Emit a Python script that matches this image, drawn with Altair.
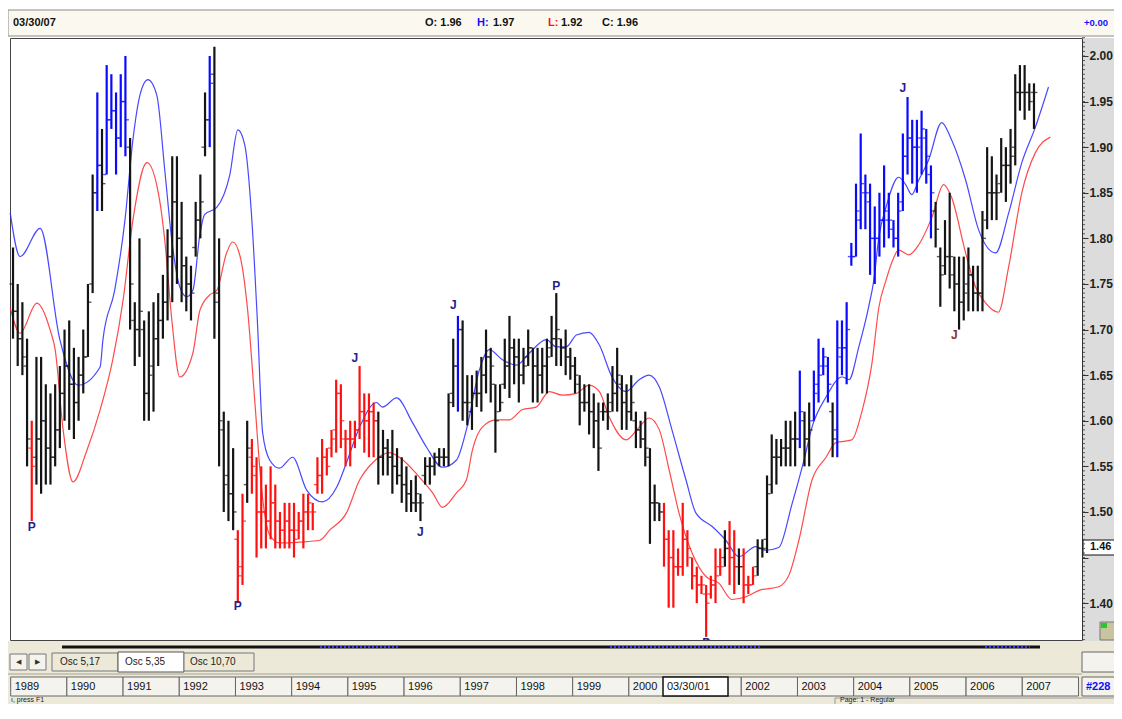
import altair as alt
import pandas as pd

# ---------------- data (monthly bars, Jan 1989 .. Mar 2007) ----------------
high = [
    1.79, 1.75, 1.73, 1.69, 1.60, 1.67, 1.67, 1.64, 1.63, 1.64, 1.66, 1.70,
    1.71, 1.68, 1.67, 1.70, 1.75, 1.87, 1.96, 1.92, 1.99, 1.98, 1.96, 1.98,
    2.00, 1.91, 1.73, 1.80, 1.71, 1.72, 1.73, 1.74, 1.76, 1.81, 1.89, 1.89,
    1.84, 1.78, 1.77, 1.84, 1.87, 1.96, 2.00, 2.01, 1.80, 1.61, 1.60, 1.57,
    1.48, 1.52, 1.60, 1.58, 1.56, 1.55, 1.53, 1.55, 1.53, 1.50, 1.51, 1.51,
    1.51, 1.50, 1.52, 1.52, 1.51, 1.56, 1.58, 1.57, 1.59, 1.645, 1.64, 1.59,
    1.60, 1.60, 1.66, 1.63, 1.63, 1.62, 1.61, 1.59, 1.58, 1.59, 1.57, 1.56,
    1.55, 1.535, 1.54, 1.52, 1.56, 1.56, 1.565, 1.57, 1.57, 1.63, 1.69, 1.715,
    1.71, 1.65, 1.65, 1.655, 1.67, 1.70, 1.68, 1.64, 1.64, 1.69, 1.715, 1.69,
    1.69, 1.68, 1.70, 1.68, 1.68, 1.68, 1.69, 1.715, 1.74, 1.69, 1.70, 1.68,
    1.67, 1.65, 1.64, 1.64, 1.63, 1.62, 1.62, 1.63, 1.66, 1.68, 1.65, 1.64,
    1.65, 1.61, 1.60, 1.61, 1.57, 1.53, 1.51, 1.51, 1.48, 1.48, 1.46, 1.51,
    1.48, 1.45, 1.44, 1.43, 1.42, 1.43, 1.46, 1.46, 1.48, 1.49, 1.48, 1.46,
    1.46, 1.43, 1.44, 1.47, 1.47, 1.54, 1.585, 1.58, 1.58, 1.60, 1.60, 1.61,
    1.655, 1.61, 1.62, 1.655, 1.69, 1.68, 1.67, 1.62, 1.71, 1.71, 1.73, 1.795,
    1.86, 1.915, 1.87, 1.86, 1.835, 1.85, 1.88, 1.85, 1.82, 1.85, 1.915, 1.955,
    1.93, 1.93, 1.94, 1.92, 1.88, 1.84, 1.79, 1.82, 1.85, 1.78, 1.78, 1.78,
    1.79, 1.77, 1.77, 1.83, 1.90, 1.89, 1.87, 1.91, 1.90, 1.92, 1.98, 1.99,
    1.99, 1.97, 1.97,
]
low = [
    1.69, 1.66, 1.65, 1.55, 1.49, 1.53, 1.52, 1.53, 1.53, 1.55, 1.57, 1.60,
    1.59, 1.58, 1.60, 1.63, 1.67, 1.74, 1.83, 1.83, 1.87, 1.92, 1.87, 1.90,
    1.89, 1.70, 1.66, 1.67, 1.60, 1.60, 1.61, 1.66, 1.69, 1.71, 1.73, 1.75,
    1.73, 1.72, 1.71, 1.78, 1.80, 1.89, 1.90, 1.69, 1.55, 1.50, 1.49, 1.48,
    1.40, 1.42, 1.51, 1.52, 1.45, 1.46, 1.46, 1.47, 1.46, 1.46, 1.46, 1.46,
    1.45, 1.47, 1.46, 1.48, 1.48, 1.52, 1.52, 1.54, 1.56, 1.565, 1.57, 1.55,
    1.55, 1.57, 1.58, 1.565, 1.56, 1.56, 1.53, 1.54, 1.54, 1.52, 1.53, 1.51,
    1.50, 1.50, 1.50, 1.49, 1.53, 1.53, 1.54, 1.55, 1.55, 1.55, 1.615, 1.61,
    1.60, 1.595, 1.59, 1.615, 1.61, 1.63, 1.62, 1.565, 1.61, 1.635, 1.625, 1.64,
    1.62, 1.64, 1.66, 1.62, 1.62, 1.63, 1.63, 1.67, 1.66, 1.66, 1.65, 1.645,
    1.63, 1.595, 1.61, 1.585, 1.57, 1.545, 1.60, 1.59, 1.61, 1.61, 1.59, 1.59,
    1.60, 1.57, 1.57, 1.55, 1.465, 1.49, 1.49, 1.44, 1.395, 1.395, 1.43, 1.43,
    1.44, 1.415, 1.40, 1.41, 1.363, 1.405, 1.40, 1.43, 1.44, 1.42, 1.41, 1.42,
    1.40, 1.41, 1.42, 1.43, 1.45, 1.455, 1.52, 1.53, 1.55, 1.55, 1.55, 1.55,
    1.57, 1.55, 1.55, 1.60, 1.62, 1.65, 1.62, 1.56, 1.56, 1.65, 1.64, 1.77,
    1.78, 1.81, 1.81, 1.76, 1.75, 1.78, 1.79, 1.80, 1.79, 1.78, 1.83, 1.87,
    1.86, 1.85, 1.87, 1.86, 1.80, 1.79, 1.725, 1.76, 1.745, 1.72, 1.70, 1.71,
    1.72, 1.72, 1.72, 1.72, 1.81, 1.82, 1.82, 1.85, 1.84, 1.86, 1.88, 1.94,
    1.93, 1.94, 1.92,
]
opens = [
    1.75, 1.72, 1.69, 1.66, 1.57, 1.56, 1.58, 1.60, 1.57, 1.56, 1.59, 1.63,
    1.66, 1.64, 1.62, 1.65, 1.67, 1.75, 1.85, 1.88, 1.87, 1.93, 1.94, 1.91,
    1.95, 1.90, 1.71, 1.70, 1.70, 1.63, 1.66, 1.69, 1.71, 1.73, 1.78, 1.84,
    1.80, 1.77, 1.75, 1.79, 1.82, 1.90, 1.93, 1.98, 1.74, 1.59, 1.54, 1.52,
    1.47, 1.44, 1.53, 1.56, 1.54, 1.50, 1.50, 1.49, 1.51, 1.49, 1.48, 1.49,
    1.48, 1.48, 1.49, 1.50, 1.50, 1.53, 1.54, 1.56, 1.57, 1.59, 1.63, 1.58,
    1.58, 1.58, 1.59, 1.61, 1.60, 1.61, 1.60, 1.56, 1.57, 1.56, 1.55, 1.54,
    1.53, 1.52, 1.51, 1.51, 1.54, 1.55, 1.55, 1.56, 1.56, 1.56, 1.63, 1.66,
    1.70, 1.62, 1.61, 1.63, 1.63, 1.65, 1.67, 1.64, 1.61, 1.64, 1.66, 1.68,
    1.67, 1.65, 1.67, 1.68, 1.66, 1.65, 1.66, 1.68, 1.69, 1.69, 1.68, 1.67,
    1.66, 1.64, 1.62, 1.62, 1.61, 1.60, 1.61, 1.61, 1.62, 1.63, 1.64, 1.62,
    1.61, 1.60, 1.59, 1.58, 1.56, 1.51, 1.51, 1.50, 1.47, 1.45, 1.44, 1.44,
    1.47, 1.45, 1.43, 1.42, 1.41, 1.41, 1.42, 1.44, 1.45, 1.46, 1.45, 1.44,
    1.44, 1.42, 1.42, 1.44, 1.46, 1.47, 1.53, 1.56, 1.56, 1.57, 1.57, 1.58,
    1.58, 1.60, 1.58, 1.60, 1.64, 1.66, 1.66, 1.61, 1.59, 1.67, 1.68, 1.78,
    1.78, 1.82, 1.85, 1.84, 1.80, 1.80, 1.82, 1.82, 1.81, 1.80, 1.84, 1.89,
    1.91, 1.90, 1.91, 1.91, 1.87, 1.83, 1.78, 1.77, 1.78, 1.76, 1.75, 1.73,
    1.75, 1.76, 1.74, 1.74, 1.82, 1.85, 1.85, 1.86, 1.88, 1.88, 1.90, 1.96,
    1.96, 1.96, 1.96,
]
closes = [
    1.72, 1.69, 1.67, 1.58, 1.55, 1.58, 1.60, 1.57, 1.56, 1.59, 1.63, 1.66,
    1.64, 1.62, 1.65, 1.67, 1.73, 1.85, 1.88, 1.86, 1.93, 1.94, 1.91, 1.95,
    1.93, 1.75, 1.70, 1.72, 1.63, 1.65, 1.69, 1.71, 1.73, 1.78, 1.84, 1.80,
    1.77, 1.75, 1.74, 1.82, 1.84, 1.93, 1.97, 1.73, 1.60, 1.53, 1.52, 1.50,
    1.43, 1.49, 1.57, 1.55, 1.50, 1.50, 1.49, 1.51, 1.49, 1.48, 1.49, 1.48,
    1.47, 1.49, 1.50, 1.51, 1.50, 1.54, 1.56, 1.55, 1.58, 1.63, 1.60, 1.58,
    1.58, 1.59, 1.61, 1.60, 1.61, 1.60, 1.56, 1.57, 1.56, 1.55, 1.54, 1.53,
    1.52, 1.51, 1.52, 1.51, 1.55, 1.55, 1.56, 1.56, 1.56, 1.62, 1.66, 1.70,
    1.62, 1.62, 1.63, 1.63, 1.65, 1.67, 1.66, 1.60, 1.62, 1.66, 1.68, 1.67,
    1.65, 1.66, 1.68, 1.66, 1.65, 1.66, 1.67, 1.69, 1.70, 1.68, 1.67, 1.66,
    1.65, 1.62, 1.62, 1.61, 1.60, 1.57, 1.61, 1.61, 1.63, 1.65, 1.62, 1.61,
    1.62, 1.59, 1.58, 1.57, 1.51, 1.51, 1.50, 1.47, 1.45, 1.44, 1.44, 1.47,
    1.46, 1.43, 1.42, 1.42, 1.40, 1.42, 1.43, 1.44, 1.46, 1.45, 1.44, 1.44,
    1.42, 1.42, 1.43, 1.46, 1.46, 1.52, 1.56, 1.56, 1.57, 1.57, 1.58, 1.58,
    1.61, 1.58, 1.59, 1.63, 1.65, 1.67, 1.64, 1.58, 1.68, 1.68, 1.70, 1.78,
    1.83, 1.86, 1.85, 1.80, 1.80, 1.82, 1.83, 1.82, 1.80, 1.83, 1.89, 1.91,
    1.90, 1.90, 1.92, 1.89, 1.85, 1.81, 1.76, 1.78, 1.78, 1.75, 1.73, 1.74,
    1.76, 1.74, 1.74, 1.80, 1.85, 1.85, 1.85, 1.88, 1.88, 1.89, 1.96, 1.96,
    1.96, 1.95, 1.96,
]
bar_color = list(
    "kkkkrkkkkkkk" "kkkkkkbkbbbb" "bkkkkkkkkkkk" "kkkkkkbkkkkk"
    "rrkrrrrrrrrr" "rrrrrrrrrrrr" "rrrrrrkkkkkk" "kkkkkkkkkkkb"
    "kkkkkkkkkkkk" "kkkkkkkkkkkk" "kkkkkkkkkkkk" "kkkkkkkrrrrr"
    "rrrrrrrrkrrk" "rrrkkkkkkkkk" "bkkbbbbkbbbb" "bbbbbbbbbbbb"
    "bbbbbkkkkkkk" "kkkkkkkkkkkk" "kkk"
)

# upper (blue) and lower (red) bands, read at month positions
up_month = [-0.6, 1.5, 5.8, 10.0, 13.9, 18.6, 19.2, 21.7, 23.9, 25.6, 27.1, 28.8, 30.7, 32.4,
            33.9, 35.6, 37.1, 38.4, 39.9, 40.9, 43.5, 46.3, 48.0, 49.5, 51.0, 52.2, 53.3, 54.8,
            56.9, 59.7, 62.7, 66.1, 69.1, 71.2, 74.0, 77.6, 78.9, 81.9, 85.3, 88.3, 91.7, 94.7,
            96.8, 99.6, 101.7, 104.5, 107.5, 110.2, 113.9, 116.0, 118.1, 120.3, 123.0, 125.2,
            127.9, 130.9, 133.7, 135.8, 138.0, 140.7, 143.7, 145.8, 149.3, 152.2, 155.0, 158.6,
            160.8, 163.5, 166.3, 168.9, 170.6, 173.6, 177.0, 178.5, 180.6, 182.7, 183.8, 184.9,
            186.4, 189.1, 190.6, 191.9, 193.4, 195.5, 198.3, 200.4, 203.4, 206.2, 209.8, 212.6,
            215.4, 218.3, 221.1]
up_value = [1.828, 1.780, 1.811, 1.689, 1.639, 1.659, 1.689, 1.743, 1.820, 1.908, 1.957, 1.974,
            1.957, 1.875, 1.798, 1.747, 1.736, 1.743, 1.804, 1.826, 1.834, 1.870, 1.919, 1.902,
            1.820, 1.707, 1.587, 1.557, 1.548, 1.560, 1.524, 1.511, 1.527, 1.554, 1.593, 1.620,
            1.615, 1.625, 1.598, 1.571, 1.549, 1.557, 1.590, 1.656, 1.678, 1.667, 1.661, 1.674,
            1.689, 1.681, 1.681, 1.694, 1.697, 1.683, 1.648, 1.632, 1.645, 1.650, 1.637, 1.590,
            1.535, 1.499, 1.484, 1.469, 1.451, 1.462, 1.458, 1.461, 1.508, 1.557, 1.593, 1.626,
            1.648, 1.645, 1.681, 1.725, 1.754, 1.802, 1.834, 1.867, 1.859, 1.848, 1.864, 1.886,
            1.927, 1.908, 1.864, 1.809, 1.784, 1.828, 1.883, 1.922, 1.966]
lo_month = [-0.6, 1.5, 5.1, 7.9, 9.0, 10.7, 12.8, 15.8, 18.6, 21.3, 23.5, 25.6, 28.6, 31.3, 32.4,
            33.9, 35.6, 38.4, 39.9, 42.0, 43.5, 45.6, 46.9, 48.4, 50.1, 51.6, 53.1, 54.8, 56.9,
            61.2, 65.5, 67.6, 71.2, 74.0, 76.8, 80.4, 82.5, 86.8, 89.6, 91.7, 94.7, 96.8, 98.1,
            100.2, 103.2, 106.0, 108.7, 111.7, 114.5, 117.3, 120.3, 123.0, 125.2, 127.3, 130.9,
            133.7, 135.8, 138.0, 140.1, 142.2, 145.0, 148.0, 150.7, 153.5, 156.5, 159.3, 163.5,
            165.7, 167.8, 170.6, 173.6, 175.7, 179.1, 181.2, 183.4, 184.9, 186.4, 187.6, 189.1,
            191.3, 193.4, 196.2, 198.7, 200.4, 203.4, 205.5, 207.7, 210.4, 212.6, 215.4, 218.3,
            221.5]
lo_value = [1.724, 1.696, 1.729, 1.700, 1.678, 1.590, 1.533, 1.568, 1.612, 1.667, 1.732, 1.820,
            1.883, 1.842, 1.798, 1.711, 1.648, 1.674, 1.721, 1.738, 1.743, 1.784, 1.796, 1.782,
            1.721, 1.623, 1.524, 1.475, 1.466, 1.467, 1.469, 1.480, 1.499, 1.535, 1.554, 1.565,
            1.560, 1.538, 1.521, 1.505, 1.521, 1.535, 1.568, 1.593, 1.601, 1.601, 1.612, 1.615,
            1.632, 1.628, 1.630, 1.639, 1.632, 1.604, 1.579, 1.593, 1.603, 1.590, 1.546, 1.499,
            1.455, 1.429, 1.422, 1.404, 1.407, 1.414, 1.418, 1.431, 1.469, 1.535, 1.560, 1.576,
            1.579, 1.609, 1.663, 1.725, 1.754, 1.773, 1.787, 1.782, 1.793, 1.823, 1.859, 1.845,
            1.784, 1.747, 1.729, 1.719, 1.769, 1.850, 1.894, 1.911]

# turning-point labels
lab_month = [4, 48, 73, 87, 94, 116, 148, 190, 201, 42]
lab_value = [1.483, 1.397, 1.669, 1.478, 1.727, 1.748, 1.356, 1.965, 1.694, 2.030]
lab_text = ["P", "P", "J", "J", "J", "P", "P", "J", "J", "J"]
lab_color = ["#1f1f8f"] * 8 + ["#8b3030", "#1f1f8f"]

years = list(range(1989, 2008))
year_text = [str(y) if y != 2001 else "" for y in years]
y_ticks = [1.40, 1.45, 1.50, 1.55, 1.60, 1.65, 1.70, 1.75, 1.80, 1.85, 1.90, 1.95, 2.00]
minor_ticks = [round(1.36 + 0.005 * i, 3) for i in range(133)]

palette = {"k": "#141414", "b": "#0a0aff", "r": "#ff1010"}


def to_t(m):
    return 1989 + (m + 0.5) / 12.0


bars = pd.DataFrame({"t": [to_t(i) for i in range(len(high))], "high": high, "low": low,
                     "open": opens, "close": closes,
                     "col": [palette[c] for c in bar_color]})
upper = pd.DataFrame({"t": [to_t(m) for m in up_month], "v": up_value})
lower = pd.DataFrame({"t": [to_t(m) for m in lo_month], "v": lo_value})
labels = pd.DataFrame({"t": [to_t(m) for m in lab_month], "v": lab_value,
                       "txt": lab_text, "col": lab_color})
yrs = pd.DataFrame({"y0": years, "y1": [y + 1 for y in years], "lab": year_text})
minor = pd.DataFrame({"v": minor_ticks})

# ---------------- layout ----------------
W, H = 1072, 602
OX, OY = 10, 38          # page position of plot origin
XS = alt.Scale(domain=[1988.988, 1988.988 + W / 56.2], nice=False, zero=False)
YS = alt.Scale(domain=[1.3596, 2.0197], nice=False, zero=False)
yaxis = alt.Axis(orient="right", values=y_ticks, format=".2f", title=None, grid=False,
                 domainColor="#333", tickColor="#333", tickSize=6, labelPadding=1,
                 labelFont="Liberation Sans", labelFontSize=12, labelFontWeight="bold",
                 labelColor="#222", labelFlush=False, zindex=1,
                 labelExpr="abs(datum.value - 1.45) < 0.001 ? '' : datum.label")

one = pd.DataFrame({"d": [0]})


def X(f):
    return alt.X(f, scale=XS, axis=None)


def Y(f):
    return alt.Y(f, scale=YS, axis=yaxis)


def rect(x0, y0, x1, y1, fill, stroke=None, sw=1.0):
    kw = {"fill": fill}
    if stroke:
        kw.update(stroke=stroke, strokeWidth=sw)
    return alt.Chart(one).mark_rect(**kw).encode(
        x=alt.value(x0 - OX), x2=alt.value(x1 - OX),
        y=alt.value(y0 - OY), y2=alt.value(y1 - OY))


def hline(x0, x1, y, color, sw=1.0, dash=None):
    kw = {"color": color, "strokeWidth": sw}
    if dash:
        kw["strokeDash"] = dash
    return alt.Chart(one).mark_rule(**kw).encode(
        x=alt.value(x0 - OX), x2=alt.value(x1 - OX), y=alt.value(y - OY))


def text(x, y, s, color="#000", size=11, weight="normal", align="left"):
    return alt.Chart(one).mark_text(text=s, color=color, fontSize=size, fontWeight=weight,
                                    align=align, baseline="middle",
                                    font="Liberation Sans").encode(
        x=alt.value(x - OX), y=alt.value(y - OY))


deco = [
    # header bar
    rect(8, 10, 1122, 36, "#fbf9ef", "#8a8a8a"),
    text(13, 23, "03/30/07", "#111", 11, "bold"),
    text(425, 23, "O: 1.96", "#111", 11, "bold"),
    text(477, 23, "H:", "#1010ff", 11, "bold"),
    text(493, 23, "1.97", "#111", 11, "bold"),
    text(548, 23, "L:", "#ff1010", 11, "bold"),
    text(561, 23, "1.92", "#111", 11, "bold"),
    text(602, 23, "C: 1.96", "#111", 11, "bold"),
    text(1084, 23, "+0.00", "#1010ff", 9.5, "bold"),
    # right axis panel and bottom chrome
    rect(1082, 38, 1122, 648, "#dcdcdc"),
    rect(8, 641, 1122, 719, "#ece9d8"),
    hline(62, 1040, 647, "#111", 3),
    hline(320, 400, 647, "#3a3aff", 2, [2, 2]),
    hline(610, 760, 647, "#3a3aff", 2, [2, 2]),
    hline(985, 1030, 647, "#3a3aff", 2, [2, 2]),
    rect(1082, 652, 1122, 672, "#f4f3ee", "#666"),
    # tabs
    rect(10, 654, 27, 670, "#f4f3ee", "#777"),
    rect(29, 654, 46, 670, "#f4f3ee", "#777"),
    text(18, 662, "◀", "#333", 7, "normal", "center"),
    text(37, 662, "▶", "#333", 7, "normal", "center"),
    rect(52, 653, 118, 671, "#ece9d8", "#777"),
    rect(118, 652, 184, 672, "#ffffff", "#555"),
    rect(184, 653, 254, 671, "#ece9d8", "#777"),
    text(60, 662, "Osc 5,17", "#222", 10),
    text(125, 662, "Osc 5,35", "#222", 10),
    text(190, 662, "Osc 10,70", "#222", 10),
    rect(8, 673, 1082, 675, "#c9c6b8"),
]

year_boxes = alt.Chart(yrs).mark_rect(fill="#f4f3ee", stroke="#666", strokeWidth=1).encode(
    x=X("y0:Q"), x2="y1:Q", y=alt.value(677 - OY), y2=alt.value(696 - OY))
year_labels = alt.Chart(yrs).mark_text(align="left", baseline="middle", dx=4, fontSize=11,
                                       font="Liberation Sans", color="#111").encode(
    x=X("y0:Q"), y=alt.value(686.5 - OY), text="lab:N")

deco2 = [
    rect(663, 677, 728, 696, "#ffffff", "#111", 1.5),
    text(667, 686.5, "03/30/01", "#111", 11),
    rect(1082, 677, 1122, 696, "#f4f3ee", "#666"),
    text(1086, 686.5, "#228", "#1010ff", 11, "bold"),
    text(11, 700, "ı, press F1", "#222", 7),
    rect(835, 698, 1122, 719, "#ece9d8", "#999"),
    text(840, 700, "Page: 1 - Regular", "#222", 7),
    # current value box on axis
    rect(1083, 540, 1122, 555, "#ffffff", "#111"),
    text(1090, 547, "1.46", "#111", 11, "bold"),
    rect(1100, 622, 1121, 640, "#c8c4a0", "#777"),
    rect(1101, 623, 1107, 628, "#22cc22"),
]

upper_line = alt.Chart(upper).mark_line(interpolate="monotone", strokeWidth=1.2, opacity=0.85,
                                        color="#2828ff").encode(x=X("t:Q"), y=Y("v:Q"))
lower_line = alt.Chart(lower).mark_line(interpolate="monotone", strokeWidth=1.2, opacity=0.85,
                                        color="#ff2a2a").encode(x=X("t:Q"), y=Y("v:Q"))

hl = alt.Chart(bars).mark_rule(strokeWidth=2.2).encode(
    x=X("t:Q"), y=Y("low:Q"), y2="high:Q", color=alt.Color("col:N", scale=None))
op = alt.Chart(bars).mark_tick(orient="horizontal", size=3, thickness=1.4, xOffset=-2).encode(
    x=X("t:Q"), y=Y("open:Q"), color=alt.Color("col:N", scale=None))
cl = alt.Chart(bars).mark_tick(orient="horizontal", size=3, thickness=1.4, xOffset=2).encode(
    x=X("t:Q"), y=Y("close:Q"), color=alt.Color("col:N", scale=None))

lab_layer = alt.Chart(labels).mark_text(fontSize=12, fontWeight="bold", font="Liberation Sans",
                                        baseline="middle", clip=True).encode(
    x=X("t:Q"), y=Y("v:Q"), text="txt:N", color=alt.Color("col:N", scale=None))

minor_layer = alt.Chart(minor).mark_rule(color="#555", strokeWidth=1).encode(
    y=Y("v:Q"), x=alt.value(W), x2=alt.value(W + 3))

chart = alt.layer(
    *deco, year_boxes, year_labels, *deco2,
    upper_line, lower_line, hl, op, cl, lab_layer, minor_layer,
).properties(
    width=W, height=H, background="white",
    padding={"left": 2, "top": 30, "right": 32, "bottom": 64},
    autosize=alt.AutoSizeParams(type="none"),
).configure_view(stroke="#444", strokeWidth=1)

chart.save("out.html", embed_options={"renderer": "svg", "actions": False})
